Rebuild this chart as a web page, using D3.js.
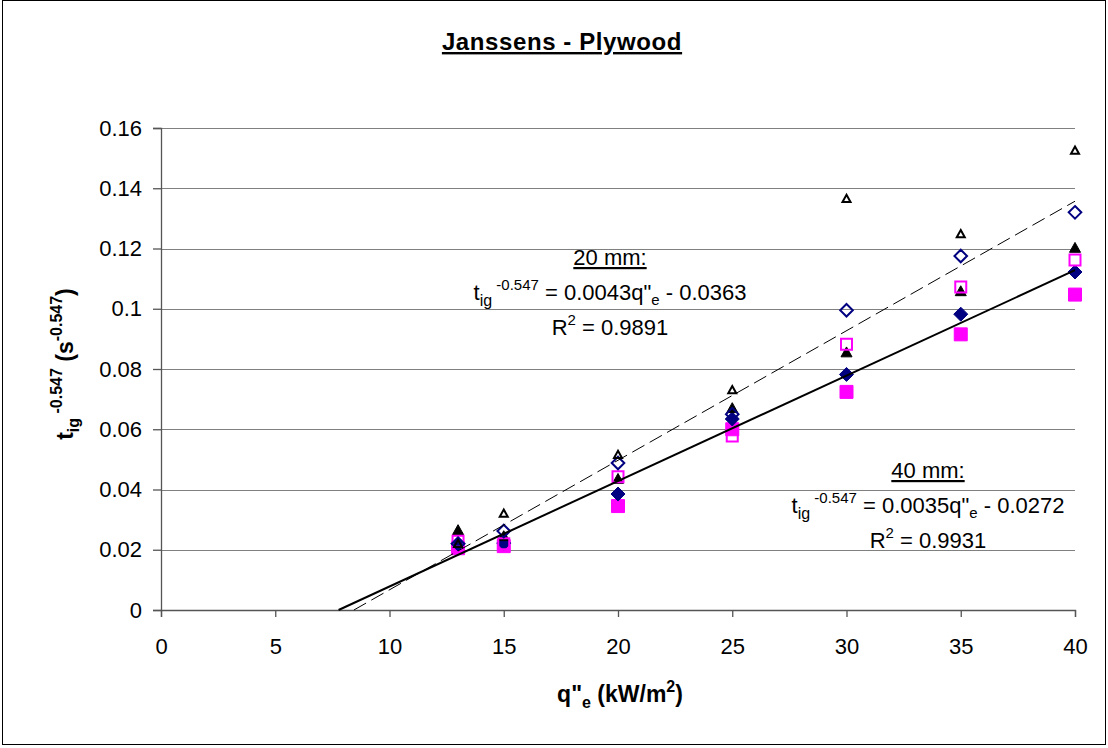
<!DOCTYPE html>
<html>
<head>
<meta charset="utf-8">
<script src="https://cdn.jsdelivr.net/npm/d3@7"></script>
<style>
body { margin: 0; background: #fff; }
text { font-family: Arial, "Liberation Sans", sans-serif; }
</style>
</head>
<body>
<script>
var width = 1108
var height = 748

var fluxes = [13, 15, 20, 25, 30, 35, 40]
// series
var openTriangle = [0.022, 0.032, 0.0515, 0.073, 0.1365, 0.1248, 0.1525]
var openDiamond = [0.022, 0.0262, 0.0488, 0.065, 0.0995, 0.1175, 0.132]
var filledTriangle = [0.0265, 0.0245, 0.0435, 0.067, 0.0855, 0.1058, 0.1202]
var openSquare = [0.0228, 0.022, 0.0442, 0.0578, 0.0882, 0.1072, 0.1162]
var filledDiamond = [0.022, 0.0222, 0.0385, 0.0634, 0.0782, 0.0982, 0.1122]
var filledSquare = [0.0205, 0.0212, 0.0345, 0.0600, 0.0724, 0.0915, 0.1047]

var fit20 = [0.0043, -0.0363]
var fit40 = [0.0035, -0.0272]
var yTicks = [0, 0.02, 0.04, 0.06, 0.08, 0.1, 0.12, 0.14, 0.16]
var xTicks = [0, 5, 10, 15, 20, 25, 30, 35, 40]

var plotLeft = 161, plotRight = 1075, plotTop = 128, plotBottom = 610

var x = d3.scaleLinear().domain([0, 40]).range([plotLeft, plotRight])
var y = d3.scaleLinear().domain([0, 0.16]).range([plotBottom, plotTop])

var svg = d3.select("body").append("svg")
.attr("width", width)
.attr("height", height)

svg.append("rect")
.attr("x", 2.5).attr("y", 0.5)
.attr("width", 1103).attr("height", 744)
.attr("fill", "none").attr("stroke", "#000").attr("stroke-width", 1)

// gridlines
svg.append("g").selectAll("line")
.data(yTicks.slice(1))
.enter().append("line")
.attr("x1", plotLeft).attr("x2", plotRight)
.attr("y1", function(d) { return Math.round(y(d)) + 0.5 })
.attr("y2", function(d) { return Math.round(y(d)) + 0.5 })
.attr("stroke", "#808080").attr("stroke-width", 1.2)

// axes
svg.append("g")
.attr("transform", "translate(" + plotLeft + ",0)")
.call(d3.axisLeft(y).tickValues(yTicks).tickSize(8).tickPadding(11)
  .tickFormat(function(d) { return String(+d.toFixed(2)) }))
svg.append("g")
.attr("transform", "translate(0," + plotBottom + ")")
.call(d3.axisBottom(x).tickValues(xTicks).tickSize(7).tickPadding(21))

svg.selectAll(".domain").attr("stroke", "#555").attr("stroke-width", 1.3)
svg.selectAll(".tick line").attr("stroke", "#555").attr("stroke-width", 1.3)
svg.selectAll(".tick text").style("font-size", "22px").attr("fill", "#000")
  .style("font-family", "Arial, 'Liberation Sans', sans-serif")

// trendlines
function fitLine(f) {
  var x0 = -f[1] / f[0]
  return [[x0, 0], [40, f[0] * 40 + f[1]]]
}
var line = d3.line().x(function(d) { return x(d[0]) }).y(function(d) { return y(d[1]) })

// markers
function shape(kind, s) {
  if (kind == "square") return "M" + (-s) + "," + (-s) + "h" + (2 * s) + "v" + (2 * s) + "h" + (-2 * s) + "Z"
  if (kind == "diamond") return "M0," + (-s) + "L" + s + ",0L0," + s + "L" + (-s) + ",0Z"
  return "M0," + (-s) + "L" + s + "," + (s * 0.8) + "L" + (-s) + "," + (s * 0.8) + "Z"
}

var series = [
  { vals: filledSquare, kind: "square", size: 6.5, color: "#ff00ff", fill: true },
  { vals: filledDiamond, kind: "diamond", size: 7, color: "#000080", fill: true },
  { vals: filledTriangle, kind: "triangle", size: 5.5, color: "#000", fill: true },
  { vals: openSquare, kind: "square", size: 5.5, color: "#ff00ff", fill: false },
  { vals: openDiamond, kind: "diamond", size: 6.3, color: "#000080", fill: false },
  { vals: openTriangle, kind: "triangle", size: 4, color: "#000", fill: false }
]

series.forEach(function(s) {
  svg.append("g").selectAll("path")
  .data(s.vals)
  .enter().append("path")
  .attr("transform", function(d, i) { return "translate(" + x(fluxes[i]) + "," + y(d) + ")" })
  .attr("d", shape(s.kind, s.size))
  .attr("fill", s.fill ? s.color : "none")
  .attr("stroke", s.color)
  .attr("stroke-width", s.fill ? 1 : 2)
})

svg.append("path").datum(fitLine(fit40))
.attr("d", line).attr("stroke", "#000").attr("stroke-width", 2).attr("fill", "none")
svg.append("path").datum(fitLine(fit20))
.attr("d", line).attr("stroke", "#000").attr("stroke-width", 1).attr("fill", "none")
.attr("stroke-dasharray", "14,6")

// title
svg.append("text")
.attr("x", 562).attr("y", 50)
.attr("text-anchor", "middle")
.style("font-size", "24px").style("font-weight", "bold")
.style("letter-spacing", "0.6px")
.style("text-decoration", "underline")
.text("Janssens - Plywood")

// axis titles
var xt = svg.append("text")
.attr("x", 620).attr("y", 702)
.attr("text-anchor", "middle")
.style("font-size", "23px").style("font-weight", "bold")
xt.append("tspan").text("q\"")
xt.append("tspan").attr("dy", 6).style("font-size", "16px").text("e")
xt.append("tspan").attr("dy", -6).text(" (kW/m")
xt.append("tspan").attr("dy", -10).style("font-size", "16px").text("2")
xt.append("tspan").attr("dy", 10).text(")")

var yt = svg.append("text")
.attr("transform", "translate(73,364) rotate(-90)")
.attr("text-anchor", "middle")
.style("font-size", "23px").style("font-weight", "bold")
yt.append("tspan").text("t")
yt.append("tspan").attr("dy", 6).style("font-size", "16px").text("ig")
yt.append("tspan").attr("dy", -17).style("font-size", "16px").text(" -0.547")
yt.append("tspan").attr("dy", 11).text(" (s")
yt.append("tspan").attr("dy", -11).style("font-size", "16px").text("-0.547")
yt.append("tspan").attr("dy", 11).text(")")

// equation labels
function eqLabel(cx, by, mm, eq, r2) {
  svg.append("text").attr("x", cx).attr("y", by)
  .attr("text-anchor", "middle").style("font-size", "22px")
  .style("text-decoration", "underline").text(mm)
  var t = svg.append("text").attr("x", cx).attr("y", by + 35)
  .attr("text-anchor", "middle").style("font-size", "22px")
  t.append("tspan").text("t")
  t.append("tspan").attr("dy", 6).style("font-size", "16px").text("ig")
  t.append("tspan").attr("dy", -16).style("font-size", "15px").text(" -0.547")
  t.append("tspan").attr("dy", 10).text(" = " + eq[0] + "q\"")
  t.append("tspan").attr("dy", 5).style("font-size", "15px").text("e")
  t.append("tspan").attr("dy", -5).text(" - " + eq[1])
  var r = svg.append("text").attr("x", cx).attr("y", by + 70)
  .attr("text-anchor", "middle").style("font-size", "22px")
  r.append("tspan").text("R")
  r.append("tspan").attr("dy", -10).style("font-size", "15px").text("2")
  r.append("tspan").attr("dy", 10).text(" = " + r2)
}
eqLabel(610, 265, "20 mm:", [fit20[0], Math.abs(fit20[1])], "0.9891")
eqLabel(928, 478, "40 mm:", [fit40[0], Math.abs(fit40[1])], "0.9931")
</script>
</body>
</html>
